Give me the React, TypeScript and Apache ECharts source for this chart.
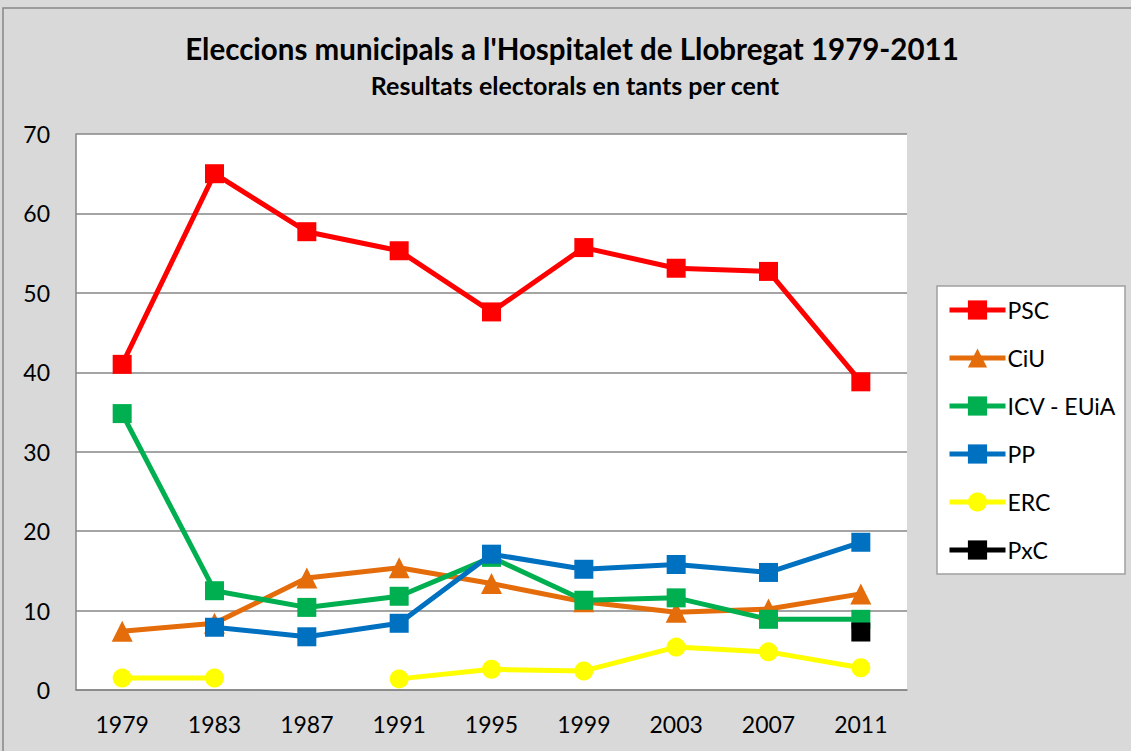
import React, { useEffect, useRef } from "react";
import * as echarts from "echarts";

const years = ["1979", "1983", "1987", "1991", "1995", "1999", "2003", "2007", "2011"];
const psc = [41.0, 65.0, 57.7, 55.3, 47.6, 55.7, 53.1, 52.7, 38.8];
const ciu = [7.4, 8.4, 14.1, 15.4, 13.4, 11.1, 9.8, 10.2, 12.1];
const icv = [34.8, 12.5, 10.4, 11.8, 16.7, 11.3, 11.6, 8.9, 8.9];
const pp = [null, 7.9, 6.7, 8.4, 17.1, 15.2, 15.8, 14.8, 18.6];
const erc = [1.5, 1.5, null, 1.4, 2.6, 2.4, 5.4, 4.8, 2.8];
const pxc = [null, null, null, null, null, null, null, null, 7.3];

const names = ["PSC", "CiU", "ICV - EUiA", "PP", "ERC", "PxC"];
const colors = ["#ff0000", "#e46c0a", "#00b050", "#0070c0", "#ffff00", "#000000"];
const symbols = ["rect", "triangle", "rect", "rect", "circle", "rect"];
const values = [psc, ciu, icv, pp, erc, pxc];

const FONT = "Lato";

export default function App() {
  const ref = useRef<HTMLDivElement>(null);
  useEffect(() => {
    const chart = echarts.init(ref.current!, null, { renderer: "svg" });
    chart.setOption({
      animation: false,
      backgroundColor: "#d9d9d9",
      textStyle: { fontFamily: FONT },
      graphic: [
        {
          type: "rect",
          shape: { x: 3, y: 8, width: 1140, height: 760 },
          style: { fill: "none", stroke: "#868686", lineWidth: 1.5 },
          z: -1,
        },
        {
          type: "rect",
          shape: { x: 937, y: 286, width: 188, height: 288 },
          style: { fill: "#ffffff", stroke: "#a0a0a0", lineWidth: 1.5 },
          z: -1,
        },
        {
          type: "text",
          x: 572,
          y: 48,
          style: {
            text: "Eleccions municipals a l'Hospitalet de Llobregat 1979-2011",
            font: `bold 29.5px ${FONT}`,
            fill: "#000",
            textAlign: "center",
            textVerticalAlign: "middle",
          },
        },
        {
          type: "text",
          x: 575,
          y: 85,
          style: {
            text: "Resultats electorals en tants per cent",
            font: `bold 25px ${FONT}`,
            fill: "#000",
            textAlign: "center",
            textVerticalAlign: "middle",
          },
        },
      ],
      grid: {
        left: 76,
        top: 134,
        right: 224,
        bottom: 61,
        show: true,
        backgroundColor: "#ffffff",
        borderWidth: 0,
      },
      legend: {
        orient: "vertical",
        left: 947,
        top: 298,
        itemGap: 24,
        itemWidth: 56,
        itemHeight: 24,
        padding: 0,
        data: names,
        lineStyle: { width: 5 },
        textStyle: { fontSize: 23, lineHeight: 24, fontFamily: FONT, color: "#000", padding: [0, 0, 0, -3] },
      },
      xAxis: {
        type: "category",
        data: years,
        boundaryGap: true,
        axisLine: { lineStyle: { color: "#868686", width: 1.5 } },
        axisTick: { show: false },
        axisLabel: { fontSize: 23, color: "#000", margin: 22, fontFamily: FONT },
      },
      yAxis: {
        type: "value",
        min: 0,
        max: 70,
        interval: 10,
        axisLine: { show: true, lineStyle: { color: "#868686", width: 1.5 } },
        axisTick: { show: false },
        splitLine: { lineStyle: { color: "#868686", width: 1.5 } },
        axisLabel: { fontSize: 23, color: "#000", margin: 26, fontFamily: FONT },
      },
      series: names.map((n, i) => ({
        name: n,
        type: "line",
        data: values[i],
        connectNulls: false,
        symbol: symbols[i],
        symbolSize: symbols[i] === "triangle" ? 21 : 19,
        showAllSymbol: true,
        color: colors[i],
        lineStyle: { color: colors[i], width: 5 },
        itemStyle: { color: colors[i] },
      })),
    });
    return () => chart.dispose();
  }, []);
  return <div ref={ref} style={{ width: 1131, height: 751, position: "absolute", left: 0, top: 0 }} />;
}
